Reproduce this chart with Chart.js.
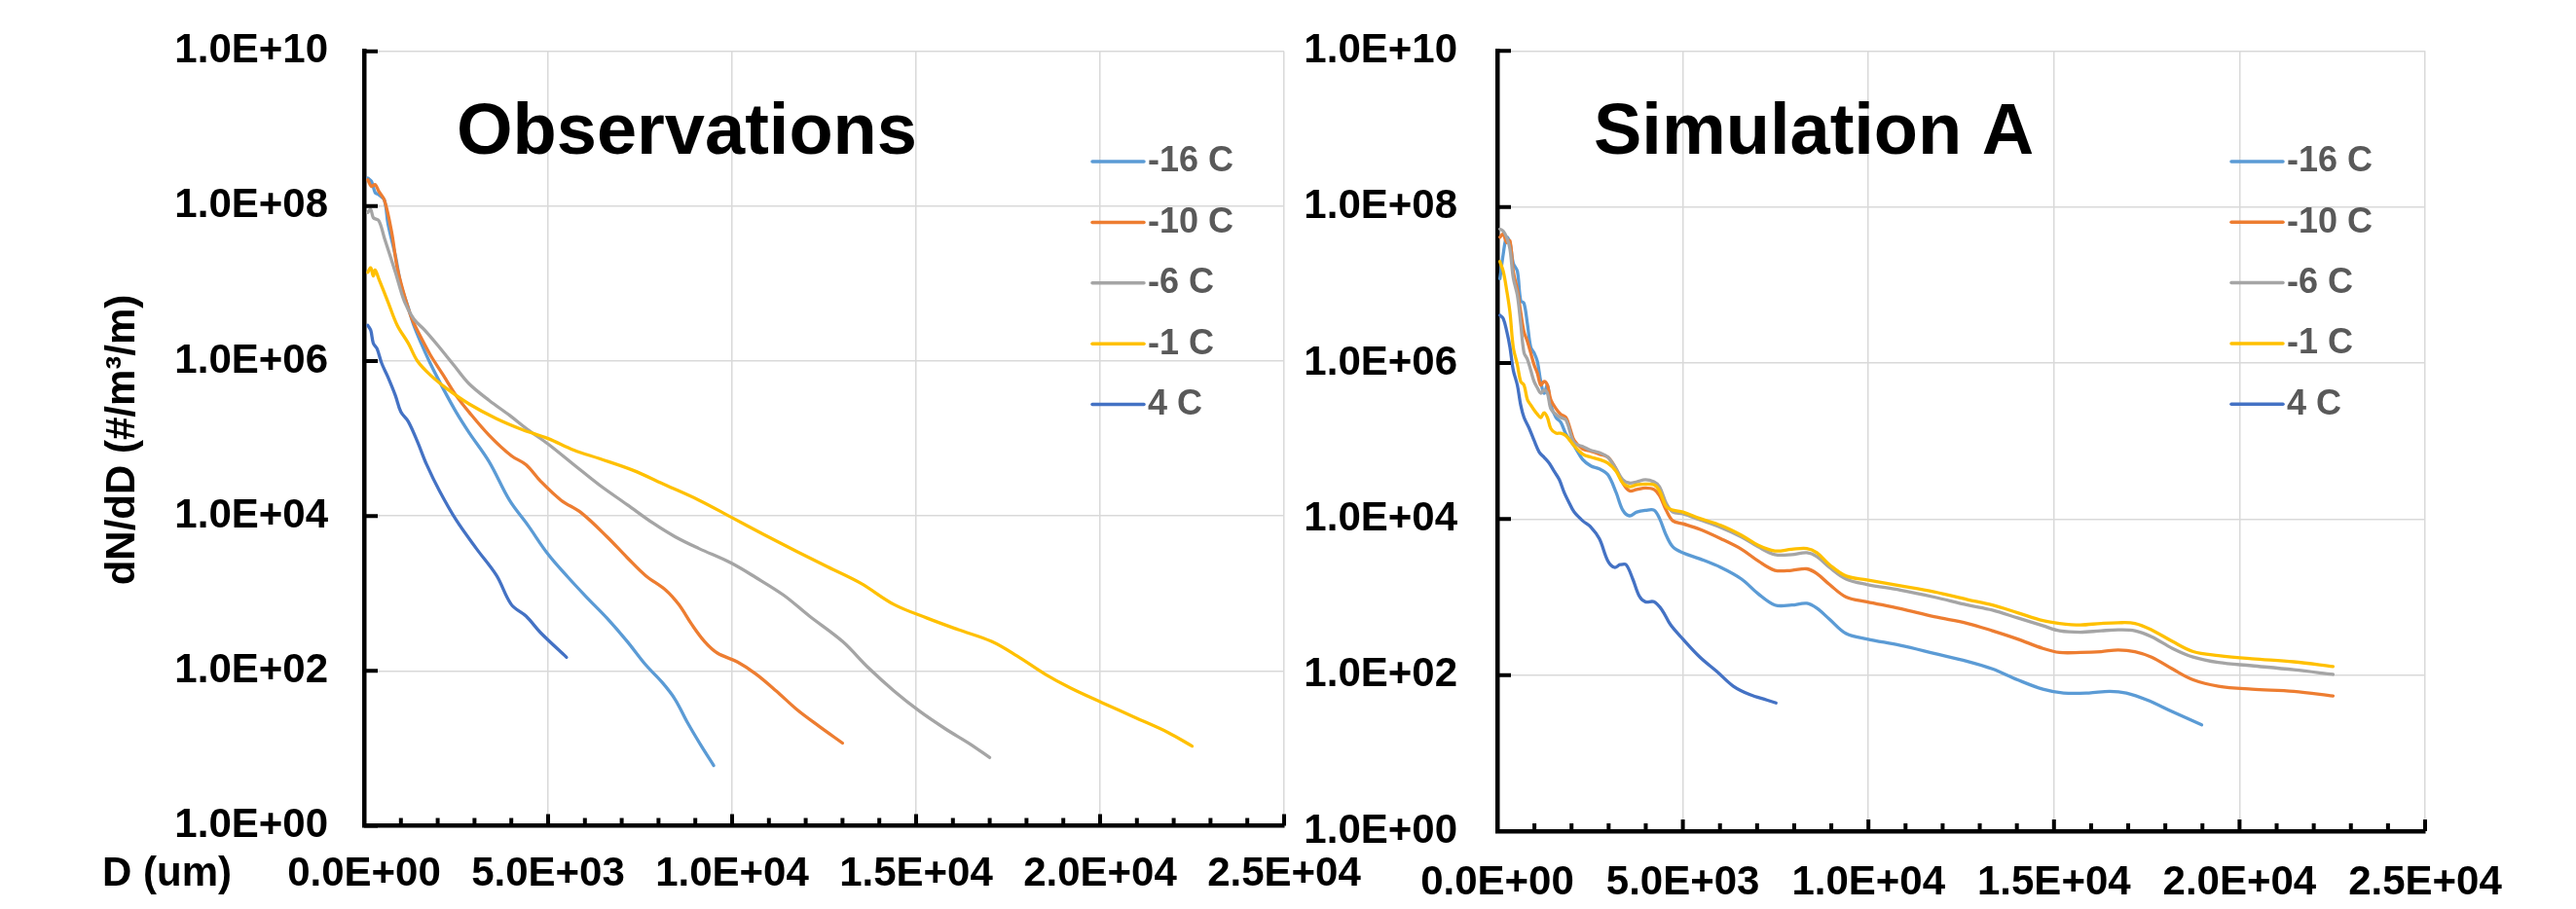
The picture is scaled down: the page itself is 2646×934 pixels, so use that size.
<!DOCTYPE html>
<html><head><meta charset="utf-8">
<script src="https://cdn.jsdelivr.net/npm/chart.js@4.4.1/dist/chart.umd.min.js"></script>
<style>
html,body{margin:0;padding:0;background:#fff;width:2646px;height:934px;overflow:hidden;position:relative}
canvas{position:absolute;top:0}
#c1{left:0}
#c2{left:1330px}
</style></head><body>
<canvas id="c1" width="1450" height="934"></canvas>
<canvas id="c2" width="1316" height="934"></canvas>
<script>
// ---------- data ----------
const seriesNames = ['-16 C', '-10 C', '-6 C', '-1 C', '4 C'];
const xTicks = [0, 5000, 10000, 15000, 20000, 25000];
const xTickLabels = ['0.0E+00', '5.0E+03', '1.0E+04', '1.5E+04', '2.0E+04', '2.5E+04'];
const xMinorTicks = [0,1000,2000,3000,4000,5000,6000,7000,8000,9000,10000,11000,12000,13000,14000,15000,16000,17000,18000,19000,20000,21000,22000,23000,24000,25000];
const yTicks = [1, 1e2, 1e4, 1e6, 1e8, 1e10];
const yTickLabels = ['1.0E+00', '1.0E+02', '1.0E+04', '1.0E+06', '1.0E+08', '1.0E+10'];

// Observations
const obsD16 = [100,200,300,400,550,650,850,1000,1200,1350,1550,1800,2150,2500,2850,3400,3950,4450,5000,5550,6050,6600,7150,7650,8100,8450,8800,9150,9500];
const obsN16 = [2.3e8,2.1e8,1.5e8,1.4e8,1.2e8,5.9e7,2.3e7,9.8e6,4.9e6,2.9e6,1.7e6,9.3e5,4.4e5,2.2e5,1.2e5,5.0e4,1.6e4,7.6e3,3.2e3,1.6e3,890,480,240,120,71,43,21,11,6.0];
const obsD10 = [100,200,300,400,550,750,900,1100,1300,1550,1800,2150,2500,2850,3400,4000,4400,4800,5350,5900,6600,7150,7650,8200,8550,8900,9250,9600,10150,10650,11200,11750,12350,13000];
const obsN10 = [2.2e8,1.8e8,1.9e8,1.55e8,1.2e8,4.6e7,1.6e7,6.9e6,3.5e6,2.0e6,1.2e6,6.6e5,3.6e5,2.2e5,1.1e5,6.0e4,4.6e4,2.8e4,1.6e4,1.1e4,5.4e3,2.9e3,1.7e3,1.1e3,720,400,240,170,130,91,55,32,19.5,11.7];
const obsD6 = [100,180,250,400,550,850,1100,1350,1650,2000,2450,2850,3400,3950,4450,5000,5700,6400,7150,7850,8450,9100,9950,10650,11400,12100,13000,13700,14400,15100,15800,16450,17000];
const obsN6 = [8.3e7,9.1e7,7.1e7,6.5e7,3.9e7,1.4e7,5.8e6,3.5e6,2.5e6,1.6e6,8.7e5,5.1e5,3.1e5,2.0e5,1.3e5,8.5e4,4.6e4,2.5e4,1.4e4,8.1e3,5.4e3,3.8e3,2.5e3,1.6e3,950,510,240,110,55,30,17.8,11.5,7.6];
const obsD1 = [100,180,250,300,400,650,900,1200,1450,1800,2250,2850,3600,4300,5000,5700,6400,7300,8200,9100,9950,10850,11750,12600,13500,14400,15300,16150,17050,17750,18500,19200,20050,20950,21850,22500];
const obsN1 = [1.4e7,1.6e7,1.26e7,1.5e7,1.15e7,5.8e6,2.9e6,1.7e6,1.0e6,6.6e5,4.4e5,2.8e5,1.8e5,1.3e5,1.0e5,7.1e4,5.5e4,3.9e4,2.5e4,1.6e4,9.8e3,5.8e3,3.5e3,2.2e3,1.35e3,720,480,340,240,155,91,60,39,25,16,10.7];
const obsD4 = [100,180,250,350,480,650,850,1000,1200,1450,1700,2050,2500,3050,3600,4000,4400,4800,5500];
const obsN4 = [2.9e6,2.5e6,1.7e6,1.45e6,9.3e5,6.2e5,3.6e5,2.2e5,1.66e5,9.1e4,4.6e4,2.1e4,8.9e3,3.8e3,1.7e3,720,510,310,150];

// Simulation A
const simD16 = [70,160,250,340,430,540,630,720,810,900,990,1080,1170,1260,1350,1440,1580,1710,1850,2070,2300,2520,2750,2980,3200,3380,3560,3760,3990,4220,4370,4550,4730,5000,5450,6020,6580,7030,7480,7930,8340,8610,8950,9400,9960,10860,11770,12670,13340,14020,14700,15260,15940,16500,16950,17510,18190,18980];
const simN16 = [1.2e7,2.5e7,4.1e7,3.5e7,1.9e7,1.5e7,6.3e6,5.8e6,3.2e6,1.6e6,1.35e6,1.05e6,5.8e5,4.1e5,5.2e5,2.9e5,2.0e5,1.74e5,1.23e5,8.7e4,5.8e4,4.8e4,4.4e4,3.7e4,2.2e4,1.3e4,1.1e4,1.23e4,1.29e4,1.3e4,1.02e4,6.2e3,4.4e3,3.7e3,3.1e3,2.4e3,1.7e3,1.1e3,790,790,830,720,520,340,290,240,190,150,120,87,66,59,59,62,59,48,34,23];
const simD10 = [70,160,250,340,430,540,630,720,810,900,990,1080,1170,1260,1350,1440,1580,1710,1850,1960,2070,2300,2520,2750,2980,3200,3380,3560,3760,3990,4220,4370,4550,4730,5000,5450,6020,6580,7030,7480,7930,8340,8610,8950,9400,9960,10860,11770,12670,13340,14020,14700,15150,15710,16270,16730,17180,17630,18190,18750,19430,20330,21460,22520];
const simN10 = [4.1e7,4.5e7,3.5e7,3.7e7,1.5e7,8.7e6,4.5e6,2.5e6,1.9e6,1.35e6,9.5e5,7.4e5,5.2e5,5.8e5,5.2e5,3.4e5,2.6e5,2.2e5,2.0e5,1.45e5,1.02e5,7.9e4,7.4e4,6.8e4,6.2e4,4.4e4,2.9e4,2.3e4,2.4e4,2.5e4,2.4e4,2.0e4,1.3e4,9.5e3,8.7e3,7.4e3,5.6e3,4.1e3,2.9e3,2.2e3,2.2e3,2.3e3,2.0e3,1.45e3,1.0e3,870,710,560,460,370,290,220,195,195,200,210,200,170,120,87,72,66,62,54];
const simD6 = [70,160,250,340,430,540,630,720,810,900,990,1080,1170,1260,1350,1440,1580,1710,1850,2070,2300,2520,2750,2980,3200,3380,3560,3760,3990,4220,4370,4550,4730,5000,5450,6020,6580,7030,7480,7930,8340,8610,8950,9400,9960,10860,11770,12670,13340,14020,14700,15150,15710,16270,16730,17180,17630,18190,18750,19430,20330,21460,22520];
const simN6 = [5.2e7,4.9e7,4.1e7,2.9e7,1.23e7,7.4e6,3.2e6,1.35e6,1.12e6,8.1e5,5.8e5,4.8e5,4.1e5,4.5e5,4.1e5,2.6e5,2.2e5,2.0e5,1.86e5,9.5e4,8.5e4,7.6e4,7.1e4,6.2e4,4.4e4,3.2e4,2.9e4,3.0e4,3.2e4,3.0e4,2.6e4,1.6e4,1.23e4,1.17e4,9.8e3,7.8e3,5.9e3,4.4e3,3.5e3,3.5e3,3.7e3,3.3e3,2.4e3,1.7e3,1.45e3,1.23e3,1.0e3,790,680,540,430,370,355,370,380,370,310,220,170,145,132,117,102];
const simD1 = [70,160,250,340,430,540,630,720,810,900,990,1080,1170,1260,1350,1440,1580,1710,1850,2070,2300,2520,2750,2980,3200,3380,3560,3760,3990,4220,4370,4550,4730,5000,5450,6020,6580,7030,7480,7930,8340,8610,8950,9400,9960,10860,11770,12670,13340,14020,14700,15150,15710,16270,16730,17180,17630,18190,18750,19430,20330,21460,22520];
const simN1 = [2.0e7,1.5e7,8.7e6,4.5e6,1.6e6,9.5e5,5.8e5,5.2e5,3.4e5,2.9e5,2.5e5,2.2e5,2.0e5,2.3e5,2.0e5,1.45e5,1.26e5,1.26e5,1.17e5,8.7e4,6.8e4,6.2e4,5.8e4,5.2e4,4.1e4,2.9e4,2.6e4,2.75e4,2.8e4,2.75e4,2.3e4,1.45e4,1.3e4,1.23e4,1.02e4,8.3e3,6.2e3,4.6e3,3.9e3,4.1e3,4.2e3,3.7e3,2.6e3,1.86e3,1.66e3,1.4e3,1.17e3,930,790,630,500,460,440,460,470,460,380,270,200,178,162,148,129];
const simD4 = [70,160,250,340,430,540,630,720,860,990,1130,1260,1400,1530,1670,1800,1940,2070,2300,2520,2750,2980,3160,3310,3470,3650,3830,3990,4220,4440,4670,5000,5460,5910,6360,6810,7260,7510];
const simN4 = [4.1e6,3.7e6,2.6e6,1.6e6,8.1e5,5.2e5,2.9e5,2.0e5,1.45e5,1.02e5,7.2e4,6.2e4,5.2e4,4.1e4,3.2e4,2.2e4,1.6e4,1.23e4,9.5e3,7.9e3,5.6e3,2.9e3,2.4e3,2.6e3,2.6e3,1.7e3,1.02e3,870,870,680,440,290,170,112,72,56,48,44];

// ---------- styles ----------
const seriesColors = ['#5B9BD5', '#ED7D31', '#A5A5A5', '#FFC000', '#4472C4'];
const FONT = '"Liberation Sans", Arial, sans-serif';
const tickFont = { family: FONT, size: 42, weight: 'bold' };

function buildSets(xs, ys) {
  return xs.map((xArr, k) => ({
    label: seriesNames[k],
    data: xArr.map((d, i) => ({ x: d, y: ys[k][i] })),
    borderColor: seriesColors[k],
    backgroundColor: seriesColors[k],
    borderWidth: 3.3,
    pointRadius: 0,
    showLine: true,
    tension: 0.35,
    borderCapStyle: 'round',
    borderJoinStyle: 'round',
    order: 5 - k
  }));
}

const decor = {
  id: 'decor',
  afterDraw(chart, args, o) {
    const { ctx, chartArea: a, scales: { x, y } } = chart;
    ctx.save();
    ctx.strokeStyle = '#000'; ctx.lineWidth = 4; ctx.lineCap = 'butt';
    ctx.beginPath();
    for (const v of yTicks) { const py = y.getPixelForValue(v); ctx.moveTo(a.left, py); ctx.lineTo(a.left + o.yTickLen, py); }
    for (const v of xMinorTicks) {
      const px = x.getPixelForValue(v);
      const len = xTicks.includes(v) ? o.xMajorLen : o.xMinorLen;
      ctx.moveTo(px, a.bottom); ctx.lineTo(px, a.bottom - len);
    }
    ctx.stroke();
    ctx.fillStyle = '#000';
    ctx.font = `bold ${o.titleSize}px ${FONT}`;
    ctx.textAlign = 'left'; ctx.textBaseline = 'alphabetic';
    ctx.fillText(o.title, o.titleX, o.titleY);
    ctx.font = `bold ${o.legSize}px ${FONT}`;
    ctx.textBaseline = 'middle';
    chart.data.datasets.forEach((ds, i) => {
      const yy = o.legY + i * o.legStep;
      ctx.strokeStyle = ds.borderColor; ctx.lineWidth = 3.5; ctx.lineCap = 'round';
      ctx.beginPath(); ctx.moveTo(o.legX1, yy); ctx.lineTo(o.legX2, yy); ctx.stroke();
      ctx.fillStyle = '#595959';
      ctx.fillText(ds.label, o.legTextX, yy + 0.5);
    });
    if (o.yTitle) {
      ctx.save();
      ctx.fillStyle = '#000';
      ctx.font = `bold 42px ${FONT}`;
      ctx.translate(o.yTitleX, o.yTitleY);
      ctx.rotate(-Math.PI / 2);
      ctx.textAlign = 'center'; ctx.textBaseline = 'alphabetic';
      ctx.fillText(o.yTitle, 0, 0);
      ctx.restore();
    }
    if (o.xTitle) {
      ctx.fillStyle = '#000';
      ctx.font = `bold 42px ${FONT}`;
      ctx.textAlign = 'left'; ctx.textBaseline = 'middle';
      ctx.fillText(o.xTitle, o.xTitleX, o.xTitleY);
    }
    ctx.restore();
  }
};

function makeChart(id, datasets, L) {
  return new Chart(document.getElementById(id), {
    type: 'scatter',
    data: { datasets },
    options: {
      responsive: false, animation: false, devicePixelRatio: 1,
      layout: { padding: { left: 0, top: L.top, right: L.right, bottom: 0 } },
      plugins: { legend: { display: false }, tooltip: { enabled: false }, decor: L.decor },
      scales: {
        x: {
          type: 'linear', min: 0, max: 25000, position: 'bottom',
          afterBuildTicks: s => { s.ticks = xTicks.map(v => ({ value: v })); },
          ticks: { callback: (v, i) => xTickLabels[i], padding: L.xPad, font: tickFont, color: '#000', maxRotation: 0, autoSkip: false },
          grid: { color: '#d9d9d9', lineWidth: 1.5, drawTicks: false },
          border: { color: '#000', width: 4.5 },
          afterFit: s => { s.height = L.xH; s.paddingLeft = 0; s.paddingRight = 0; }
        },
        y: {
          type: 'logarithmic', min: 1, max: 1e10, position: 'left',
          afterBuildTicks: s => { s.ticks = yTicks.map(v => ({ value: v })); },
          ticks: { callback: (v, i) => yTickLabels[i], padding: L.yPad, font: tickFont, color: '#000', autoSkip: false },
          grid: { color: '#d9d9d9', lineWidth: 1.5, drawTicks: false },
          border: { color: '#000', width: 4.5 },
          afterFit: s => { s.width = L.yW; s.paddingTop = 0; s.paddingBottom = 0; }
        }
      }
    },
    plugins: [decor]
  });
}

makeChart('c1', buildSets([obsD16, obsD10, obsD6, obsD1, obsD4], [obsN16, obsN10, obsN6, obsN1, obsN4]), {
  top: 52.7, right: 131, yW: 374, xH: 85.5, yPad: 37, xPad: 24.5,
  decor: {
    yTickLen: 14, xMajorLen: 12, xMinorLen: 8,
    title: 'Observations', titleSize: 74, titleX: 469, titleY: 158,
    legSize: 36, legX1: 1122, legX2: 1175, legTextX: 1179, legY: 166, legStep: 62.4,
    yTitle: 'dN/dD (#/m³/m)', yTitleX: 138, yTitleY: 452,
    xTitle: 'D (um)', xTitleX: 105, xTitleY: 898
  }
});

makeChart('c2', buildSets([simD16, simD10, simD6, simD1, simD4], [simN16, simN10, simN6, simN1, simN4]), {
  top: 52.3, right: 155, yW: 208, xH: 80, yPad: 41, xPad: 27.8,
  decor: {
    yTickLen: 14, xMajorLen: 12, xMinorLen: 8,
    title: 'Simulation A', titleSize: 74, titleX: 307, titleY: 158,
    legSize: 36, legX1: 962, legX2: 1015, legTextX: 1019, legY: 166, legStep: 62.3
  }
});
</script>
</body></html>
